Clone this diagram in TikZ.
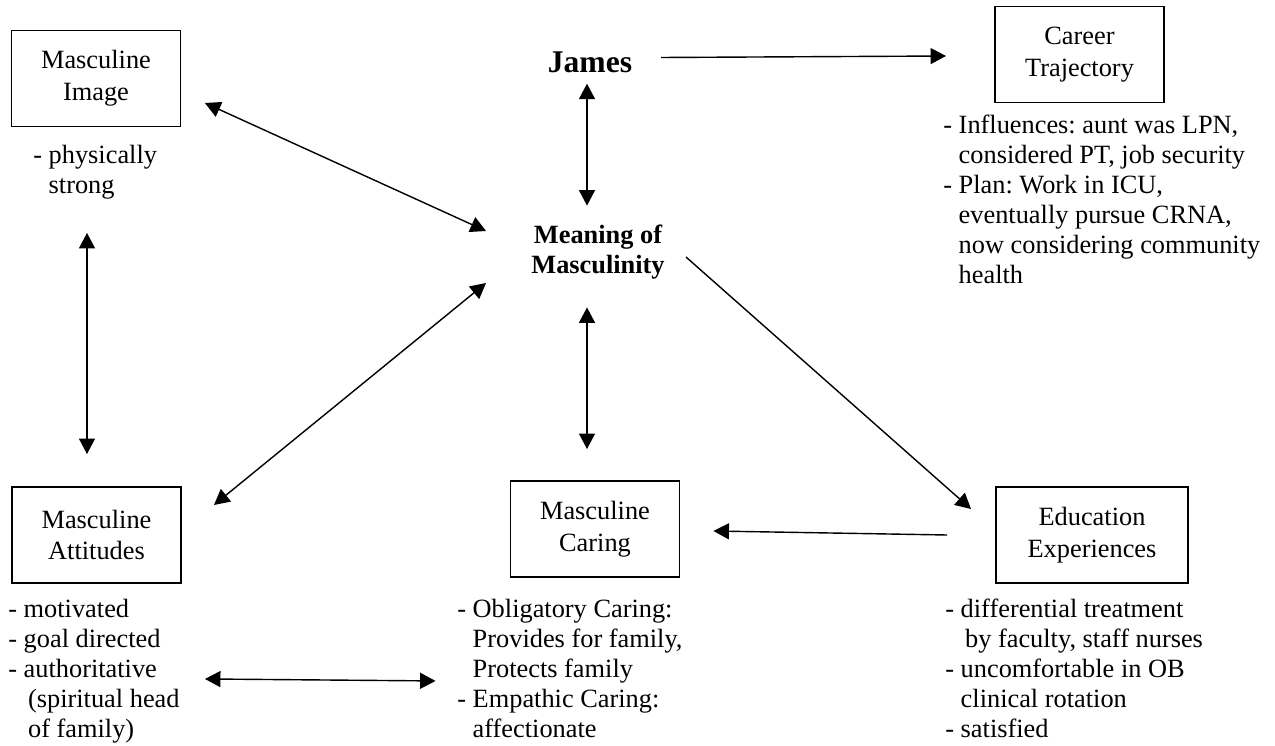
\documentclass[tikz,border=0pt]{standalone}
\usepackage{fontspec}
\setmainfont{Liberation Serif}
\usetikzlibrary{arrows.meta}
\frenchspacing

\begin{document}
\begin{tikzpicture}[x=0.02cm,y=-0.02cm,
  every node/.style={font=\fontsize{15}{17}\selectfont},
  Head/.tip={Triangle[length=0.31cm,width=0.32cm]},
  box/.style={draw,line width=1.1pt,minimum width=3.38cm,minimum height=1.92cm,
    align=center,font=\fontsize{15}{18}\selectfont},
  note/.style={anchor=north west,align=left,inner sep=0pt},
  link/.style={line width=0.8pt,-Head},
  both/.style={line width=0.8pt,Head-Head}]
\useasboundingbox (0,0) rectangle (1275,746);

% the five themes
\node[box] (image) at (96,78.5) {Masculine\\Image};
\node[box] (career) at (1079.5,54.5) {Career\\Trajectory};
\node[box] (attitudes) at (96.5,535) {Masculine\\Attitudes};
\node[box] (caring) at (595,529) {Masculine\\Caring};
\node[box,minimum width=3.84cm] (education) at (1092,535) {Education\\Experiences};

\node[inner sep=0pt,anchor=base,font=\fontsize{18}{21}\selectfont\bfseries] (james) at (590,73) {James};
\node[inner sep=0pt,align=center,font=\fontsize{15}{17}\selectfont\bfseries] (meaning) at (598,252) {Meaning of\\Masculinity};

% notes under the boxes
\node[note] (imagenote) at (33,145) {- physically\\\hphantom{- }strong};
\node[note] (careernote) at (943,115) {- Influences: aunt was LPN,\\\hphantom{- }considered PT, job security\\- Plan: Work in ICU,\\\hphantom{- }eventually pursue CRNA,\\\hphantom{- }now considering community\\\hphantom{- }health};
\node[note] (attnote) at (8,599) {- motivated\\- goal directed\\- authoritative\\\hphantom{- }\,(spiritual head\\\hphantom{- }\,of family)};
\node[note] (carnote) at (457,599) {- Obligatory Caring:\\\hphantom{- }Provides for family,\\\hphantom{- }Protects family\\- Empathic Caring:\\\hphantom{- }affectionate};
\node[note] (edunote) at (945,599) {- differential treatment\\\hphantom{- }\,by faculty, staff nurses\\- uncomfortable in OB\\\hphantom{- }clinical rotation\\- satisfied};

% links
\draw[link] ([shift={(28.7,-5.3)}]james.east) -- ([shift={(-48,1.5)}]career.west);
\draw[both] ([shift={(-3,10)}]james.south) -- ([shift={(-11,-19)}]meaning.north);
\draw[both] ([shift={(23.5,24.5)}]image.east) -- ([shift={(-45,-21)}]meaning.west);
\draw[both] ([shift={(32,-30)}]attitudes.east) -- ([shift={(-45,31)}]meaning.west);
\draw[both] ([shift={(-11,28)}]meaning.south) -- ([shift={(-8,-31)}]caring.north);
\draw[link] ([shift={(21,5)}]meaning.east) -- ([shift={(-24,23)}]education.north west);
\draw[link] ([shift={(-48,0)}]education.west) -- ([shift={(33,2)}]caring.east);
\draw[both] ([shift={(-9,105.5)}]image.south) -- ([shift={(-9.5,-32)}]attitudes.north);
\draw[both] ([shift={(23,95)}]attitudes.south east) -- ([shift={(-74,103)}]caring.south west);
\end{tikzpicture}
\end{document}
